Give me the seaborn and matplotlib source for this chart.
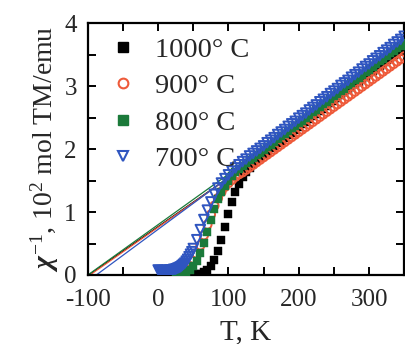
import matplotlib
matplotlib.use("Agg")
import matplotlib.pyplot as plt
import seaborn as sns
import pandas as pd
from matplotlib.lines import Line2D
from matplotlib.ticker import MultipleLocator

# ---- data ----
T_high = [55, 60, 65, 70, 75, 80, 85, 90, 95, 100,
          105, 110, 115, 120, 125, 130, 135, 140, 145, 150,
          155, 160, 165, 170, 175, 180, 185, 190, 195, 200,
          205, 210, 215, 220, 225, 230, 235, 240, 245, 250,
          255, 260, 265, 270, 275, 280, 285, 290, 295, 300,
          305, 310, 315, 320, 325, 330, 335, 340, 345, 350]

T_700_low = [0, 2, 4, 6, 8, 10, 12, 14, 16, 18, 20, 22, 24, 26, 28, 30,
             32, 34, 36, 38, 40, 42, 44, 46, 48, 50]
chi_700 = [0.08, 0.07, 0.07, 0.07, 0.07, 0.07, 0.07, 0.07, 0.08, 0.08, 0.08, 0.09, 0.09,
           0.10, 0.11, 0.12, 0.13, 0.15, 0.17, 0.19, 0.22, 0.25, 0.29, 0.33, 0.37, 0.42,
           0.56, 0.72, 0.88, 1.03, 1.16, 1.28, 1.38, 1.46, 1.53, 1.59,
           1.65, 1.70, 1.75, 1.80, 1.84, 1.89, 1.93, 1.97, 2.01, 2.05,
           2.10, 2.14, 2.18, 2.23, 2.27, 2.31, 2.36, 2.40, 2.44, 2.49,
           2.53, 2.57, 2.62, 2.66, 2.70, 2.75, 2.79, 2.83, 2.88, 2.92,
           2.96, 3.01, 3.05, 3.09, 3.14, 3.18, 3.22, 3.27, 3.31, 3.35,
           3.40, 3.44, 3.48, 3.53, 3.57, 3.61, 3.66, 3.70, 3.74, 3.79]

T_900_low = [20, 25, 30, 35, 40, 45, 50]
chi_900 = [0.02, 0.03, 0.04, 0.06, 0.09, 0.14, 0.22,
           0.33, 0.47, 0.63, 0.80, 0.96, 1.10, 1.22, 1.32, 1.40, 1.46,
           1.51, 1.56, 1.60, 1.63, 1.67, 1.71, 1.75, 1.79, 1.83, 1.87,
           1.91, 1.95, 1.99, 2.03, 2.07, 2.11, 2.15, 2.19, 2.23, 2.27,
           2.31, 2.35, 2.39, 2.43, 2.47, 2.51, 2.55, 2.59, 2.63, 2.67,
           2.71, 2.75, 2.79, 2.83, 2.87, 2.91, 2.95, 2.99, 3.03, 3.07,
           3.11, 3.15, 3.19, 3.23, 3.27, 3.31, 3.35, 3.39, 3.43, 3.47]

T_800_low = [25, 30, 35, 40, 45, 50]
chi_800 = [0.01, 0.02, 0.03, 0.05, 0.08, 0.14,
           0.23, 0.35, 0.51, 0.69, 0.88, 1.05, 1.20, 1.32, 1.42, 1.50,
           1.57, 1.63, 1.68, 1.73, 1.78, 1.82, 1.86, 1.90, 1.94, 1.99,
           2.03, 2.07, 2.11, 2.16, 2.20, 2.24, 2.28, 2.33, 2.37, 2.41,
           2.45, 2.50, 2.54, 2.58, 2.62, 2.67, 2.71, 2.75, 2.79, 2.84,
           2.88, 2.92, 2.96, 3.01, 3.05, 3.09, 3.13, 3.18, 3.22, 3.26,
           3.30, 3.35, 3.39, 3.43, 3.47, 3.52, 3.56, 3.60, 3.64, 3.69]

T_1000_low = [40, 45, 50]
chi_1000 = [0.00, 0.00, 0.01,
            0.01, 0.02, 0.04, 0.08, 0.14, 0.24, 0.38, 0.56, 0.76, 0.97,
            1.16, 1.32, 1.45, 1.55, 1.63, 1.70, 1.77, 1.83, 1.88, 1.92,
            1.96, 2.01, 2.05, 2.09, 2.13, 2.18, 2.22, 2.26, 2.30, 2.35,
            2.39, 2.43, 2.47, 2.52, 2.56, 2.60, 2.64, 2.69, 2.73, 2.77,
            2.81, 2.86, 2.90, 2.94, 2.98, 3.03, 3.07, 3.11, 3.15, 3.20,
            3.24, 3.28, 3.32, 3.37, 3.41, 3.45, 3.49, 3.54, 3.58, 3.62]

labels = ["1000° C", "900° C", "800° C", "700° C"]
colors = ["#000000", "#ee5a3a", "#1b7a3a", "#2f55c0"]

# Curie-Weiss fit lines (start/end points)
fit_T = {"1000° C": [-99, 120], "900° C": [-97, 100], "800° C": [-100, 120], "700° C": [-88, 106]}
fit_chi = {"1000° C": [0.0, 1.70], "900° C": [0.0, 1.54], "800° C": [0.0, 1.76], "700° C": [0.0, 1.60]}

series = {
    "1000° C": (T_1000_low + T_high, chi_1000),
    "900° C": (T_900_low + T_high, chi_900),
    "800° C": (T_800_low + T_high, chi_800),
    "700° C": (T_700_low + T_high, chi_700),
}

# ---- style ----
sns.set_theme(style="ticks")
plt.rcParams["font.family"] = ["Liberation Serif", "DejaVu Serif"]
plt.rcParams["mathtext.fontset"] = "custom"
plt.rcParams["mathtext.rm"] = "Liberation Serif"
plt.rcParams["mathtext.it"] = "Liberation Serif:italic:bold"
plt.rcParams["axes.unicode_minus"] = False

fig = plt.figure(figsize=(4.05, 3.44), dpi=100)
ax = fig.add_axes([0.217, 0.2006, 0.781, 0.7324])

# fit lines
line_order = ["1000° C", "900° C", "700° C", "800° C"]
for lab in line_order:
    c = colors[labels.index(lab)]
    df = pd.DataFrame({"T": fit_T[lab], "chi": fit_chi[lab]})
    sns.lineplot(data=df, x="T", y="chi", color=c, lw=0.9, ax=ax, legend=False)

markers = {"1000° C": "s", "900° C": "o", "800° C": "s", "700° C": "v"}
filled = {"1000° C": True, "900° C": False, "800° C": True, "700° C": False}
sizes = {"1000° C": 34, "900° C": 36, "800° C": 34, "700° C": 48}

for lab, c in zip(labels, colors):
    T, chi = series[lab]
    df = pd.DataFrame({"T": T, "chi": chi})
    if filled[lab]:
        sns.scatterplot(data=df, x="T", y="chi", marker=markers[lab], s=sizes[lab],
                        color=c, edgecolor=c, linewidth=0.3, ax=ax, legend=False, zorder=3)
    else:
        sns.scatterplot(data=df, x="T", y="chi", marker=markers[lab], s=sizes[lab],
                        facecolor="none", edgecolor=c, linewidth=1.4, ax=ax, legend=False, zorder=3)

ax.set_xlim(-100, 350)
ax.set_ylim(0, 4)
ax.xaxis.set_major_locator(MultipleLocator(100))
ax.xaxis.set_minor_locator(MultipleLocator(50))
ax.yaxis.set_major_locator(MultipleLocator(1))
ax.yaxis.set_minor_locator(MultipleLocator(0.5))
ax.tick_params(which="both", direction="in", top=True, right=True,
               length=6, width=1.4, color="black", labelsize=18)
ax.tick_params(axis="x", which="both", pad=10)
ax.tick_params(axis="y", which="both", pad=8)
for s in ax.spines.values():
    s.set_linewidth(1.6)
    s.set_color("black")
    s.set_visible(True)

ax.set_xlabel("T, K", fontsize=21, labelpad=6)
ax.set_ylabel(r"$\chi^{-1}$, 10$^{2}$ mol TM/emu", fontsize=20, labelpad=2)

handles = []
for lab, c in zip(labels, colors):
    if filled[lab]:
        h = Line2D([], [], ls="none", marker=markers[lab], markersize=6.5,
                   markerfacecolor=c, markeredgecolor=c)
    else:
        h = Line2D([], [], ls="none", marker=markers[lab], markersize=7,
                   markerfacecolor="none", markeredgecolor=c, markeredgewidth=1.5)
    handles.append(h)
ax.legend(handles, labels, loc="upper left", bbox_to_anchor=(0.0, 1.0), frameon=False,
          fontsize=20.5, handletextpad=0.35, labelspacing=0.36, borderaxespad=0.1,
          handlelength=1.5)

fig.savefig("out.png", dpi=100)
